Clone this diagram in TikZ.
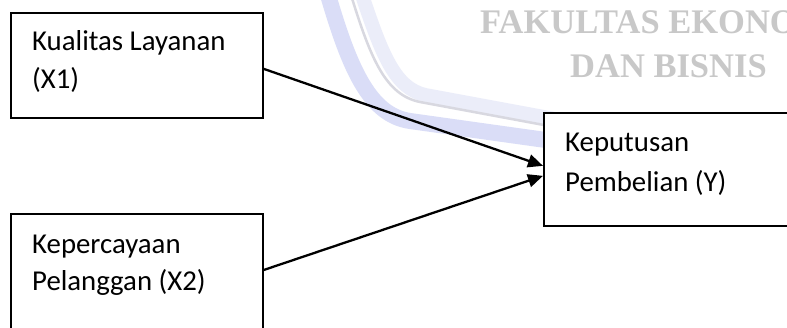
\documentclass[tikz,border=0pt]{standalone}
\usepackage{fontspec}
\setmainfont{Carlito}
\newfontfamily\wmfont{Liberation Serif}
\usetikzlibrary{arrows.meta}
\definecolor{wmgray}{HTML}{C8C8C8}
\definecolor{wmband}{HTML}{DADDF7}
\definecolor{wmhalo}{HTML}{EBEDF9}
\definecolor{wmline}{HTML}{D8D8E0}
\tikzset{
  varbox/.style={draw=black, line width=1.7pt, fill=white, inner sep=0pt, anchor=north west},
  label/.style={inner sep=0pt, anchor=base west, font=\fontsize{28.8}{34}\selectfont},
  wmtext/.style={inner sep=0pt, anchor=base west, text=wmgray, font=\wmfont\bfseries\fontsize{34.5}{40}\selectfont},
  link/.style={draw=black, line width=2.3pt, -{Triangle[length=15pt,width=13pt]}}
}
\begin{document}
\begin{tikzpicture}[x=1pt,y=-1pt]
\clip (0,0) rectangle (787,327);
\fill[white] (0,0) rectangle (787,327);

% faint logo stroke in the background
\draw[wmhalo, line width=14pt] (362,-5) .. controls (382,55) and (395,88) .. (425,95) -- (560,120);
\draw[wmband, line width=16pt] (328,-5) .. controls (350,70) and (370,115) .. (410,121) -- (560,142);
\draw[wmline, line width=2.5pt] (351,-5) .. controls (371,60) and (386,95) .. (420,102) -- (560,128);

% faculty name
\node[wmtext] (wm1) at (480,33) {FAKULTAS EKONOMI};
\node[wmtext] (wm2) at (570,77) {DAN BISNIS};

% variable boxes
\node[varbox, minimum width=252pt, minimum height=105pt] (x1) at (10,12) {};
\node[varbox, minimum width=252pt, minimum height=140pt] (x2) at (10,213) {};
\node[varbox, minimum width=270pt, minimum height=113pt] (y) at (543,112) {};

\node[label] (x1a) at (32,50) {Kualitas Layanan};
\node[label] (x1b) at (32,88) {(X1)};
\node[label] (x2a) at (32,253) {Kepercayaan};
\node[label] (x2b) at (32,290) {Pelanggan (X2)};
\node[label] (ya) at (565,151) {Keputusan};
\node[label] (yb) at (565,191) {Pembelian (Y)};

% influences
\coordinate (x1out) at ([yshift=-3.5pt]x1.east);
\coordinate (x2out) at (x2.west |- 0,270);
\coordinate (x2o) at (x2.east |- x2out);
\coordinate (yin1) at ([yshift=3.5pt]y.west);
\coordinate (yin2) at ([yshift=-6.5pt]y.west);
\draw[link] (x1out) -- (yin1);
\draw[link] (x2o) -- (yin2);
\end{tikzpicture}
\end{document}
